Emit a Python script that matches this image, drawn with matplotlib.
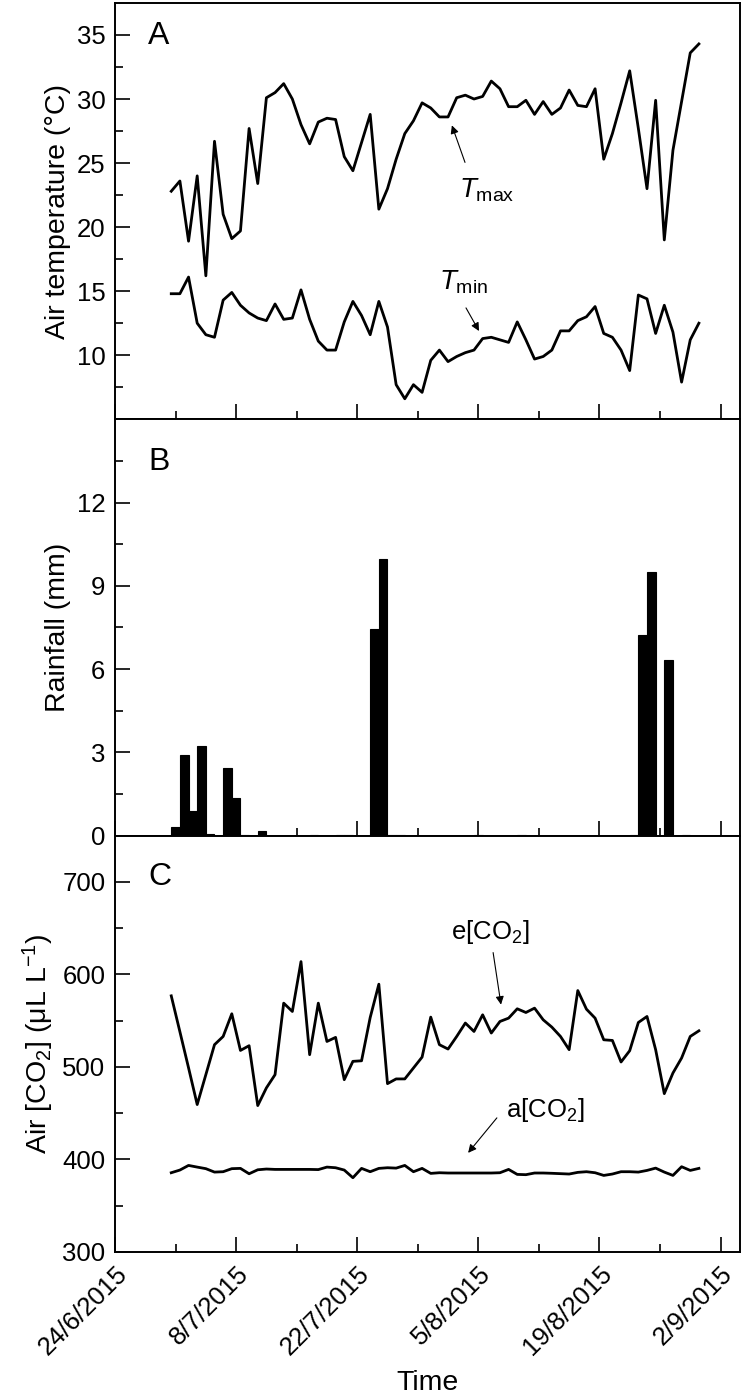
import matplotlib
matplotlib.use('Agg')
import matplotlib.pyplot as plt
import pandas as pd

plt.rcParams['font.family'] = ['Liberation Sans', 'DejaVu Sans']
plt.rcParams['mathtext.fontset'] = 'custom'
plt.rcParams['mathtext.rm'] = 'Liberation Sans'
plt.rcParams['mathtext.it'] = 'Liberation Sans:italic'
plt.rcParams['mathtext.default'] = 'regular'

# ---------------- data ----------------
dates = pd.date_range('2015-07-01', '2015-08-31', freq='D')

t_max = [22.8, 23.6, 18.9, 24.0, 16.2, 26.7, 21.0, 19.1, 19.7, 27.7,
         23.4, 30.1, 30.5, 31.2, 30.0, 28.0, 26.5, 28.2, 28.5, 28.4,
         25.5, 24.4, 26.6, 28.8, 21.4, 23.0, 25.3, 27.3, 28.3, 29.7,
         29.3, 28.6, 28.6, 30.1, 30.3, 30.0, 30.2, 31.4, 30.8, 29.4,
         29.4, 29.9, 28.8, 29.8, 28.8, 29.3, 30.7, 29.5, 29.4, 30.8,
         25.3, 27.3, 29.7, 32.2, 27.7, 23.0, 29.9, 19.0, 26.0, 29.8,
         33.6, 34.3]

t_min = [14.8, 14.8, 16.1, 12.5, 11.6, 11.4, 14.3, 14.9, 13.9, 13.3,
         12.9, 12.7, 14.0, 12.8, 12.9, 15.1, 12.8, 11.1, 10.4, 10.4,
         12.6, 14.2, 13.1, 11.6, 14.2, 12.2, 7.7, 6.6, 7.7, 7.1,
         9.6, 10.4, 9.5, 9.9, 10.2, 10.4, 11.3, 11.4, 11.2, 11.0,
         12.6, 11.2, 9.7, 9.9, 10.4, 11.9, 11.9, 12.7, 13.0, 13.8,
         11.7, 11.4, 10.4, 8.8, 14.7, 14.4, 11.7, 13.9, 11.8, 7.9,
         11.2, 12.5]

rainfall = [0.30, 2.92, 0.88, 3.22, 0.06, 0.0, 2.44, 1.36, 0.03, 0.0,
            0.15, 0.0, 0.0, 0.0, 0.0, 0.0, 0.02, 0.0, 0.0, 0.02,
            0.02, 0.0, 0.0, 7.44, 9.96, 0.02, 0.02, 0.0, 0.0, 0.0,
            0.0, 0.0, 0.0, 0.0, 0.0, 0.02, 0.0, 0.0, 0.0, 0.0,
            0.02, 0.0, 0.0, 0.0, 0.0, 0.0, 0.0, 0.0, 0.0, 0.0,
            0.0, 0.0, 0.0, 0.02, 7.21, 9.48, 0.0, 6.31, 0.0, 0.02,
            0.0, 0.0]

e_co2 = [576.8, 538.0, 499.0, 459.3, 491.6, 524.0, 532.9, 557.4, 517.8, 522.9,
         458.2, 477.3, 491.6, 568.9, 559.9, 613.8, 513.2, 568.9, 527.5, 531.9,
         486.2, 506.0, 506.6, 553.4, 589.4, 481.9, 487.0, 487.0, 498.8, 510.6,
         553.8, 524.0, 519.3, 532.9, 547.4, 538.3, 556.3, 536.6, 549.1, 552.7,
         562.8, 558.8, 563.5, 550.9, 543.0, 532.9, 518.6, 582.5, 562.4, 552.7,
         529.3, 528.6, 505.3, 517.5, 548.0, 554.5, 518.6, 471.1, 493.4, 509.6,
         532.9, 539.0]

a_co2 = [385.6, 388.5, 393.5, 391.7, 390.0, 386.3, 386.7, 390.0, 390.3, 384.5,
         388.8, 389.6, 389.2, 389.2, 389.2, 389.2, 389.2, 389.0, 391.7, 391.0,
         388.5, 380.2, 390.3, 386.7, 390.3, 391.0, 390.6, 393.5, 386.7, 390.3,
         384.9, 385.6, 385.3, 385.3, 385.3, 385.3, 385.3, 385.3, 385.6, 389.2,
         383.8, 383.5, 385.3, 385.3, 385.0, 384.6, 384.2, 386.0, 386.7, 385.6,
         382.7, 384.2, 386.7, 386.7, 386.3, 388.1, 390.6, 386.3, 382.7, 392.1,
         388.1, 390.3]

major_tick_dates = ['2015-06-24', '2015-07-08', '2015-07-22', '2015-08-05', '2015-08-19', '2015-09-02']
major_tick_labels = ['24/6/2015', '8/7/2015', '22/7/2015', '5/8/2015', '19/8/2015', '2/9/2015']
minor_tick_dates = ['2015-07-01', '2015-07-15', '2015-07-29', '2015-08-12', '2015-08-26']

# ---------------- figure ----------------
fig = plt.figure(figsize=(7.44, 13.96), dpi=100)
axA, axB, axC = fig.subplots(3, 1, sharex=True)
fig.subplots_adjust(left=0.1546, right=0.9946, top=0.9979, bottom=0.1032, hspace=0)

xplot = dates - pd.Timedelta(hours=12)
lw = 2.0

axA.plot(xplot, t_max, color='black', lw=lw)
axA.plot(xplot, t_min, color='black', lw=lw)
axB.bar(xplot, rainfall, width=1.0, align='edge', color='black', edgecolor='black', linewidth=0.8)
axC.plot(xplot, e_co2, color='black', lw=lw)
axC.plot(xplot, a_co2, color='black', lw=lw)

axA.set_ylim(5, 37.5)
axA.set_yticks([10, 15, 20, 25, 30, 35])
axA.set_yticks([7.5, 12.5, 17.5, 22.5, 27.5, 32.5], minor=True)
axB.set_ylim(0, 15)
axB.set_yticks([0, 3, 6, 9, 12])
axB.set_yticks([1.5, 4.5, 7.5, 10.5, 13.5], minor=True)
axC.set_ylim(300, 750)
axC.set_yticks([300, 400, 500, 600, 700])
axC.set_yticks([350, 450, 550, 650], minor=True)

axC.set_xlim(pd.Timestamp('2015-06-24'), pd.Timestamp('2015-09-04 06:00'))
axC.set_xticks(pd.to_datetime(major_tick_dates), labels=major_tick_labels)
axC.set_xticks(pd.to_datetime(minor_tick_dates), minor=True)

for ax in (axA, axB, axC):
    ax.tick_params(which='both', direction='in', top=False, right=False,
                   labelsize=18.5, width=1.2)
    ax.tick_params(which='major', length=11, pad=7)
    ax.tick_params(which='minor', length=5.5)
    for sp in ax.spines.values():
        sp.set_linewidth(1.4)

axA.yaxis.set_label_coords(-0.07, 0.5)
axB.yaxis.set_label_coords(-0.07, 0.5)
axC.yaxis.set_label_coords(-0.094, 0.5)

for lab in axC.get_xticklabels():
    lab.set_rotation(45)
    lab.set_ha('right')
    lab.set_va('top')
    lab.set_rotation_mode('anchor')

axA.set_ylabel('Air temperature (°C)', fontsize=20.5)
axB.set_ylabel('Rainfall (mm)', fontsize=20.5)
axC.set_ylabel(r'Air [CO$_2$] ($\mu$L L$^{-1}$)', fontsize=20.5)
axC.set_xlabel('Time', fontsize=20.5, va='top')
axC.xaxis.set_label_coords(0.5, -0.284)

axA.text(0.053, 0.957, 'A', transform=axA.transAxes, fontsize=23, va='top', ha='left')
axB.text(0.053, 0.934, 'B', transform=axB.transAxes, fontsize=23, va='top', ha='left')
axC.text(0.053, 0.937, 'C', transform=axC.transAxes, fontsize=23, va='top', ha='left')

arrow = dict(arrowstyle='-|>', lw=0.8, color='black', mutation_scale=12, shrinkA=0, shrinkB=0)

axA.text(0.594, 0.549, r'$\mathit{T}_{\mathrm{max}}$', transform=axA.transAxes,
         fontsize=20, ha='center', va='center')
axA.annotate('', xy=(0.539, 0.706), xytext=(0.56, 0.617), xycoords='axes fraction',
             textcoords='axes fraction', arrowprops=arrow)
axA.text(0.557, 0.328, r'$\mathit{T}_{\mathrm{min}}$', transform=axA.transAxes,
         fontsize=20, ha='center', va='center')
axA.annotate('', xy=(0.5824, 0.212), xytext=(0.5616, 0.2675), xycoords='axes fraction',
             textcoords='axes fraction', arrowprops=arrow)

axC.text(0.6, 0.769, r'e[CO$_2$]', transform=axC.transAxes, fontsize=18.5, ha='center', va='center')
axC.annotate('', xy=(0.6176, 0.594), xytext=(0.605, 0.719), xycoords='axes fraction',
             textcoords='axes fraction', arrowprops=arrow)
axC.text(0.688, 0.341, r'a[CO$_2$]', transform=axC.transAxes, fontsize=18.5, ha='center', va='center')
axC.annotate('', xy=(0.565, 0.238), xytext=(0.611, 0.322), xycoords='axes fraction',
             textcoords='axes fraction', arrowprops=arrow)

fig.savefig('out.png', dpi=100)
